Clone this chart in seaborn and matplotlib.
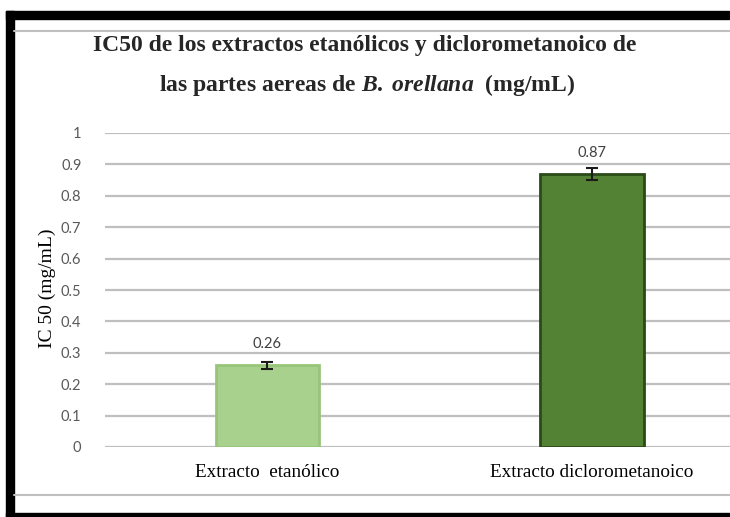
import numpy as np
import pandas as pd
import matplotlib
matplotlib.use("Agg")
import matplotlib.pyplot as plt
import seaborn as sns
from matplotlib.patches import Rectangle
from matplotlib.lines import Line2D

categories = ["Extracto  etanólico", "Extracto diclorometanoico"]
ic50 = [0.26, 0.87]
errors = [0.012, 0.02]
bar_colors = ["#A9D18E", "#548235"]
edge_colors = ["#97C57A", "#2A4A16"]

df = pd.DataFrame({"extracto": categories, "ic50": ic50})

sns.set_theme(style="white")
plt.rcParams["mathtext.fontset"] = "custom"
plt.rcParams["mathtext.it"] = "Liberation Serif:bold:italic"
plt.rcParams["mathtext.rm"] = "Liberation Serif:bold"

W, H = 730, 517
fig = plt.figure(figsize=(W / 100, H / 100), dpi=100)
fig.patch.set_facecolor("white")

# axes placed in pixel units, right side runs off the picture like the original
ax = fig.add_axes([105 / W, (H - 447) / H, 625 / W, 314 / H])
sns.barplot(data=df, x="extracto", y="ic50", hue="extracto", palette=bar_colors,
            saturation=1, width=0.318, legend=False, ax=ax, errorbar=None, zorder=3)
for patch, ec in zip(ax.patches, edge_colors):
    patch.set_edgecolor(ec)
    patch.set_linewidth(2)

x = np.arange(len(categories))
ax.errorbar(x, ic50, yerr=errors, fmt="none", ecolor="#1a1a1a",
            elinewidth=1.5, capsize=4, capthick=1.5, zorder=4)
for xi, v, e in zip(x, ic50, errors):
    ax.text(xi, v + 0.045, f"{v:.2f}", ha="center", va="bottom",
            fontsize=10.5, color="#404040", family="Lato")

ax.set_xlim(-0.5, 1.425)
ax.set_ylim(0, 1)
ax.set_yticks(np.arange(0, 1.01, 0.1))
ax.set_yticklabels(["0", "0.1", "0.2", "0.3", "0.4", "0.5", "0.6", "0.7", "0.8", "0.9", "1"])
ax.yaxis.grid(True, color="#BFBFBF", linewidth=1.6, zorder=0)
ax.set_axisbelow(True)
ax.tick_params(axis="y", length=0, pad=17, labelsize=10.5, labelcolor="#595959")
ax.tick_params(axis="x", length=0, pad=12)
for lab in ax.get_yticklabels():
    lab.set_family("Lato")
for lab in ax.get_xticklabels():
    lab.set_family("Liberation Serif")
    lab.set_fontsize(13.8)
    lab.set_color("black")
for s in ax.spines.values():
    s.set_visible(False)
ax.set_xlabel("")
ax.set_ylabel("")

fig.text(47 / W, 1 - 288 / H, "IC 50 (mg/mL)", rotation=90, ha="center", va="center",
         family="Liberation Serif", fontsize=14, color="black")

fig.text(365 / W, 1 - 46 / H, "IC50 de los extractos etanólicos y diclorometanoico de",
         ha="center", va="center", family="Liberation Serif", weight="bold", fontsize=17)
fig.text(367 / W, 1 - 85 / H, r"las partes aereas de $B.\;orellana$  (mg/mL)",
         ha="center", va="center", family="Liberation Serif", weight="bold", fontsize=17)

# frame of the pasted chart
fig.add_artist(Rectangle((6 / W, 1 - 19 / H), (729 - 6) / W, 8 / H,
                         transform=fig.transFigure, color="black"))
fig.add_artist(Rectangle((6 / W, 0), 8 / W, 1 - 11 / H,
                         transform=fig.transFigure, color="black"))
fig.add_artist(Rectangle((6 / W, 0), (730 - 6) / W, 4 / H,
                         transform=fig.transFigure, color="black"))
for yy in (31, 495):
    fig.add_artist(Line2D([14 / W, 1], [1 - yy / H, 1 - yy / H],
                          transform=fig.transFigure, color="#BFBFBF", linewidth=1.5))

fig.savefig("out.png", dpi=100)
